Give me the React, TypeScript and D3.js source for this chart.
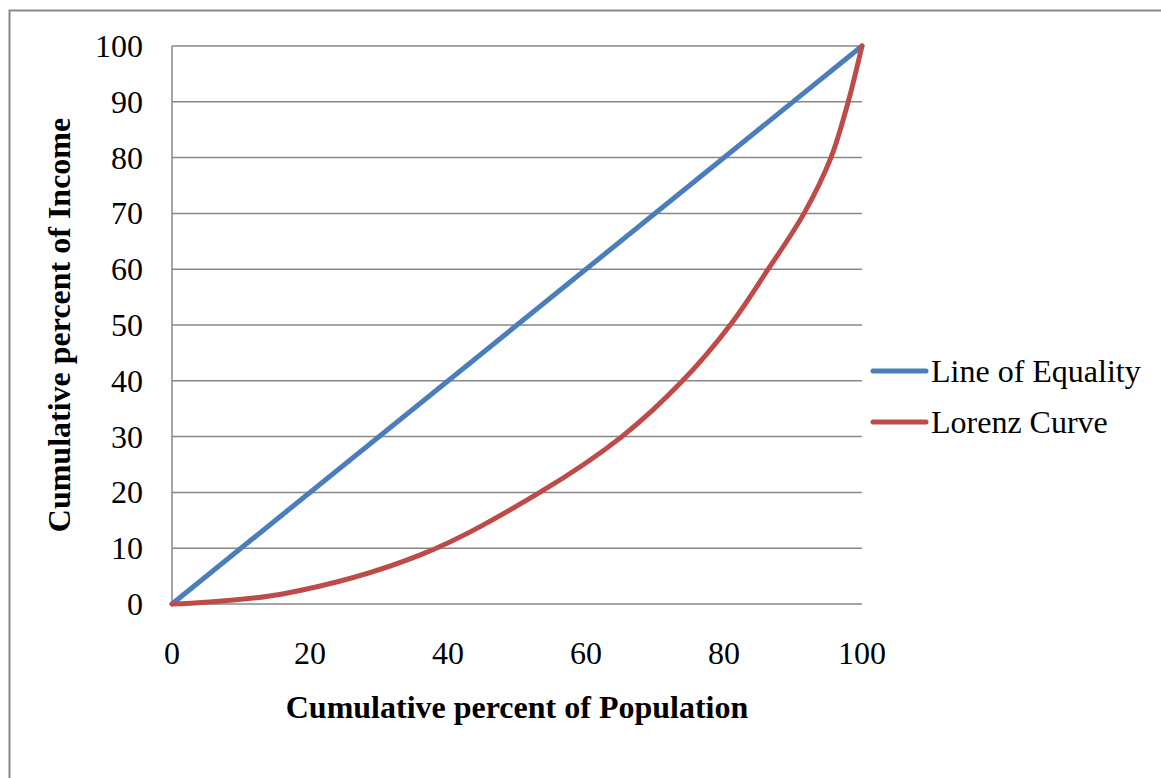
import React from "react";
import * as d3 from "d3";

const equalityPop = [0, 100];
const equalityIncome = [0, 100];
const lorenzPop = [0, 16, 36, 53.3, 65.2, 74, 80.9, 86.4, 91.6, 95.5, 98, 100];
const lorenzIncome = [0, 1.8, 8.8, 20, 30, 40, 50, 60, 70, 80, 90, 100];
const xTicks = [0, 20, 40, 60, 80, 100];
const yTicks = [0, 10, 20, 30, 40, 50, 60, 70, 80, 90, 100];
const seriesNames = ["Line of Equality", "Lorenz Curve"];
const seriesColors = ["#4A7EBB", "#BE4B48"];

const W = 1161;
const H = 778;
const FONT = "'Liberation Serif', 'Times New Roman', serif";
const FS = 32;

export default function App() {
  const x = d3.scaleLinear().domain([0, 100]).range([172, 862]);
  const y = d3.scaleLinear().domain([0, 100]).range([604, 46]);
  const line = d3
    .line<[number, number]>()
    .x((d) => x(d[0]))
    .y((d) => y(d[1]))
    .curve(d3.curveCatmullRom.alpha(0.5));
  const eq: [number, number][] = equalityPop.map((p, i) => [p, equalityIncome[i]]);
  const lz: [number, number][] = lorenzPop.map((p, i) => [p, lorenzIncome[i]]);
  const series = [eq, lz];

  return (
    <svg
      width={W}
      height={H}
      style={{ position: "absolute", left: 0, top: 0, background: "#fff" }}
      fontFamily={FONT}
    >
      <rect x={0} y={0} width={W} height={H} fill="#fff" />
      <rect x={9.5} y={10.5} width={W + 10} height={H + 10} fill="none" stroke="#888" strokeWidth={2} />
      {yTicks.map((t) => (
        <line key={"g" + t} x1={x(0)} x2={x(100)} y1={y(t)} y2={y(t)} stroke="#878787" strokeWidth={1.5} />
      ))}
      <line x1={x(0)} x2={x(0)} y1={y(0)} y2={y(100)} stroke="#878787" strokeWidth={1.5} />
      {yTicks.map((t) => (
        <text key={"yl" + t} x={143} y={y(t) + 11} textAnchor="end" fontSize={FS} fill="#000">
          {t}
        </text>
      ))}
      {xTicks.map((t) => (
        <text key={"xl" + t} x={x(t)} y={664} textAnchor="middle" fontSize={FS} fill="#000">
          {t}
        </text>
      ))}
      <text x={517} y={718} textAnchor="middle" fontSize={FS} fontWeight="bold" fill="#000">
        Cumulative percent of Population
      </text>
      <text
        transform={`translate(70,${(y(0) + y(100)) / 2}) rotate(-90)`}
        textAnchor="middle"
        fontSize={FS}
        fontWeight="bold"
        fill="#000"
      >
        Cumulative percent of Income
      </text>
      {series.map((s, i) => (
        <path key={"s" + i} d={line(s) || ""} fill="none" stroke={seriesColors[i]} strokeWidth={5} strokeLinejoin="round" strokeLinecap="round" />
      ))}
      {seriesNames.map((n, i) => (
        <g key={"lg" + i}>
          <line x1={873} x2={926} y1={371 + i * 51} y2={371 + i * 51} stroke={seriesColors[i]} strokeWidth={5} strokeLinecap="round" />
          <text x={931} y={382 + i * 51} fontSize={FS} fill="#000">
            {n}
          </text>
        </g>
      ))}
    </svg>
  );
}
